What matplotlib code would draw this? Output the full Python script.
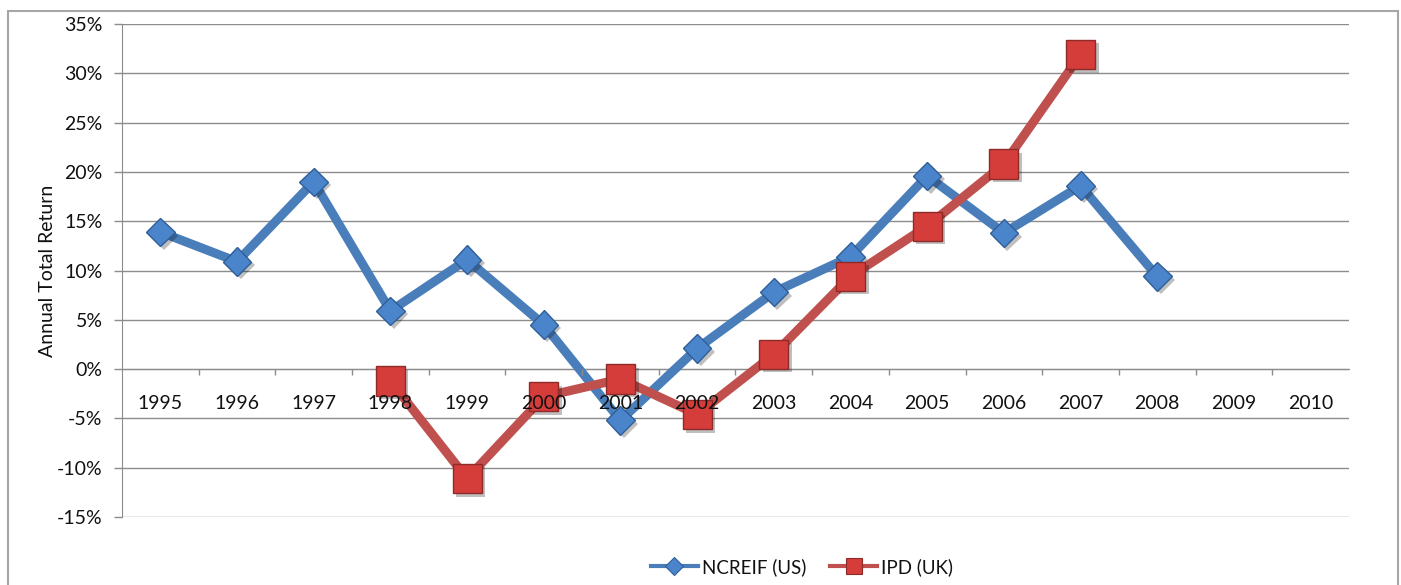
import matplotlib
matplotlib.use("Agg")
import matplotlib.pyplot as plt
import matplotlib.patheffects as pe
from matplotlib.lines import Line2D
from matplotlib.patches import Rectangle
from matplotlib.ticker import FixedLocator

plt.rcParams['font.family'] = ['Lato', 'DejaVu Sans']

# Annual total returns (%), by calendar year
years = [str(y) for y in range(1995, 2011)]
ncreif_years = [str(y) for y in range(1995, 2009)]
ncreif = [13.9, 10.9, 19.0, 5.9, 11.1, 4.5, -5.2, 2.1, 7.8, 11.4, 19.6, 13.8, 18.6, 9.4]
ipd_years = [str(y) for y in range(1998, 2008)]
ipd = [-1.2, -11.1, -2.8, -1.0, -4.6, 1.5, 9.4, 14.5, 20.8, 31.9]
y_ticks = list(range(-15, 40, 5))

BLUE_LINE = '#4A7EBB'
BLUE_FACE = '#4A85CB'
BLUE_EDGE = '#2F5E98'
RED_LINE = '#C0504D'
RED_FACE = '#D43D3A'
RED_EDGE = '#8E2A27'
GRID = '#8C8C8C'
TEXT = '#111111'

fig = plt.figure(figsize=(14.01, 5.85), dpi=100)
ax = fig.add_axes([122 / 1401, 1 - 517 / 585, 1227 / 1401, 493 / 585])

pos = {y: i for i, y in enumerate(years)}
xn = [pos[y] for y in ncreif_years]
xi = [pos[y] for y in ipd_years]

shadow = [pe.SimplePatchShadow(offset=(2.5, -2.5), shadow_rgbFace='#000000', alpha=0.25), pe.Normal()]

ax.plot(xn, ncreif, color=BLUE_LINE, lw=6.5, solid_joinstyle='round', zorder=3)
ax.plot(xn, ncreif, ls='none', marker='D', ms=14.5, mfc=BLUE_FACE, mec=BLUE_EDGE, mew=1.0,
        zorder=4, path_effects=shadow)
ax.plot(xi, ipd, color=RED_LINE, lw=6.5, solid_joinstyle='round', zorder=5)
ax.plot(xi, ipd, ls='none', marker='s', ms=21, mfc=RED_FACE, mec=RED_EDGE, mew=1.0,
        zorder=6, path_effects=shadow)

ax.set_xlim(-0.5, len(years) - 0.5)
ax.set_ylim(-15, 35)

# y axis
ax.set_yticks(y_ticks)
ax.set_yticklabels([f'{t}%' for t in y_ticks], fontsize=14, color=TEXT)
ax.tick_params(axis='y', length=6, width=1, color=GRID, pad=8)
ax.yaxis.grid(True, color=GRID, lw=1)
ax.set_axisbelow(True)

# category axis sits on the zero line; its labels are drawn over the series
ax.spines['bottom'].set_position(('data', 0))
ax.spines['bottom'].set_color(GRID)
ax.spines['left'].set_color(GRID)
ax.spines['top'].set_visible(False)
ax.spines['right'].set_visible(False)
ax.set_xticks(range(len(years)))
ax.set_xticklabels(years, fontsize=14, color=TEXT)
ax.tick_params(axis='x', which='major', length=0, pad=19)
ax.xaxis.set_minor_locator(FixedLocator([i + 0.5 for i in range(len(years) - 1)]))
ax.tick_params(axis='x', which='minor', length=4, width=1, color=GRID, direction='out')
ax.xaxis.set_zorder(10)

ax.set_ylabel('Annual Total Return', fontsize=14, color=TEXT, labelpad=1)

handles = [
    Line2D([], [], color=BLUE_LINE, lw=3, marker='D', ms=9, mfc=BLUE_FACE, mec=BLUE_EDGE, mew=0.8),
    Line2D([], [], color=RED_LINE, lw=3, marker='s', ms=12, mfc=RED_FACE, mec=RED_EDGE, mew=0.8),
]
leg = fig.legend(handles, ['NCREIF (US)', 'IPD (UK)'], loc='center',
                 bbox_to_anchor=(802 / 1401, 18 / 585), ncol=2, frameon=False, fontsize=13.5,
                 handlelength=2.5, handletextpad=0.2, columnspacing=1.3, numpoints=1)
for t in leg.get_texts():
    t.set_color(TEXT)

# chart border
fig.patches.append(Rectangle((8 / 1401, -0.05), 1390 / 1401, 1.05 - 11 / 585,
                             transform=fig.transFigure, fill=False, ec='#A6A6A6', lw=1.5,
                             clip_on=False))

fig.savefig('out.png', dpi=100, facecolor='white')
